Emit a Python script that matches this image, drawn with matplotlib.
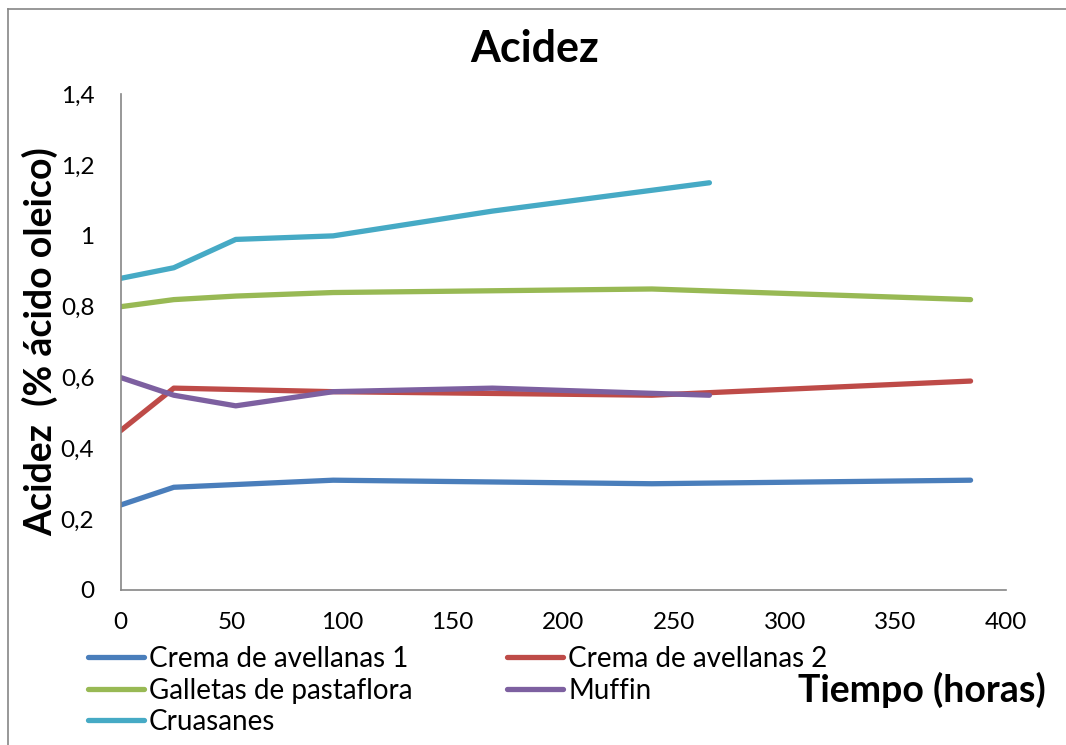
import matplotlib
matplotlib.use("Agg")
import matplotlib.pyplot as plt
from matplotlib.lines import Line2D
from matplotlib.ticker import FuncFormatter

plt.rcParams['font.family'] = ['Lato', 'DejaVu Sans']

# data (hours, % oleic acid)
t_crema1 = [0, 24, 96, 240, 384]
crema1 = [0.24, 0.29, 0.31, 0.30, 0.31]

t_crema2 = [0, 24, 96, 240, 384]
crema2 = [0.45, 0.57, 0.56, 0.55, 0.59]

t_galletas = [0, 24, 52, 96, 240, 384]
galletas = [0.80, 0.82, 0.83, 0.84, 0.85, 0.82]

t_muffin = [0, 24, 52, 96, 168, 266]
muffin = [0.60, 0.55, 0.52, 0.56, 0.57, 0.55]

t_cruasanes = [0, 24, 52, 96, 168, 266]
cruasanes = [0.88, 0.91, 0.99, 1.00, 1.07, 1.15]

series = [
    ("Crema de avellanas 1", t_crema1, crema1, "#4A7EBB"),
    ("Crema de avellanas 2", t_crema2, crema2, "#BE4B48"),
    ("Galletas de pastaflora", t_galletas, galletas, "#98B954"),
    ("Muffin", t_muffin, muffin, "#7D60A0"),
    ("Cruasanes", t_cruasanes, cruasanes, "#46AAC5"),
]

fig = plt.figure(figsize=(10.66, 7.45), dpi=100)
ax = fig.add_axes([0.1132, 0.2081, 0.8305, 0.6654])

handles = {}
for name, x, y, c in series:
    ln, = ax.plot(x, y, color=c, lw=3.8, solid_capstyle='round',
                  solid_joinstyle='round', label=name)
    handles[name] = ln

ax.set_xlim(0, 400)
ax.set_ylim(0, 1.4)
ax.set_xticks(range(0, 401, 50))
ax.set_yticks([0, 0.2, 0.4, 0.6, 0.8, 1.0, 1.2, 1.4])
ax.yaxis.set_major_formatter(FuncFormatter(lambda v, p: ("%g" % round(v, 1)).replace(".", ",")))

for s in ["top", "right"]:
    ax.spines[s].set_visible(False)
for s in ["left", "bottom"]:
    ax.spines[s].set_color("#868686")
    ax.spines[s].set_linewidth(1.2)
ax.tick_params(axis='both', length=0, labelsize=17.5)
ax.tick_params(axis='x', pad=16)
ax.tick_params(axis='y', pad=19)

fig.text(0.5014, 1 - 62 / 745, "Acidez", ha='center', va='baseline',
         fontsize=31, fontweight='bold')
fig.text(40 / 1066, 1 - 342 / 745, "Acidez  (% ácido oleico)", rotation=90,
         ha='center', va='center', fontsize=27, fontweight='bold')
fig.text(1046 / 1066, 1 - 690 / 745, "Tiempo (horas)", ha='right', va='center',
         fontsize=27, fontweight='bold')

leg_kw = dict(frameon=False, fontsize=20, handlelength=2.0, handletextpad=0.2,
              labelspacing=0.2, borderaxespad=0, borderpad=0, loc='upper left')
col1 = ["Crema de avellanas 1", "Galletas de pastaflora", "Cruasanes"]
col2 = ["Crema de avellanas 2", "Muffin"]
leg1 = fig.legend([handles[n] for n in col1], col1,
                  bbox_to_anchor=(88 / 1066, 1 - 646 / 745), **leg_kw)
leg2 = fig.legend([handles[n] for n in col2], col2,
                  bbox_to_anchor=(507 / 1066, 1 - 646 / 745), **leg_kw)

# chart area border (only top and left edges visible in the crop)
fig.add_artist(Line2D([8 / 1066, 1], [1 - 9 / 745, 1 - 9 / 745],
                      transform=fig.transFigure, color="#868686", lw=1.2))
fig.add_artist(Line2D([8 / 1066, 8 / 1066], [0, 1 - 9 / 745],
                      transform=fig.transFigure, color="#868686", lw=1.2))

fig.savefig("out.png", dpi=100)
